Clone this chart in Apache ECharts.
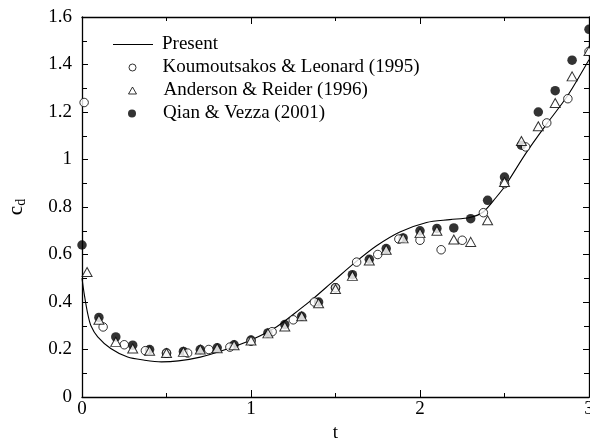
<!DOCTYPE html>
<html>
<head>
<meta charset="utf-8">
<script src="https://cdn.jsdelivr.net/npm/echarts@6/dist/echarts.min.js"></script>
<style>
  html, body { margin: 0; padding: 0; background: #fff; overflow: hidden; }
  #chart { width: 590px; height: 443px; }
</style>
</head>
<body>
<div id="chart"></div>
<script>
// Drag coefficient history c_d(t)
const presentT  = [0, 0.014, 0.034, 0.053, 0.093, 0.17, 0.27, 0.37, 0.47, 0.57, 0.7, 0.85, 1.0, 1.15, 1.29, 1.368, 1.486, 1.625, 1.743, 1.881, 2.039, 2.177, 2.295, 2.374, 2.45, 2.5, 2.63, 2.75, 2.87, 3.0];
const presentCd = [0.50, 0.43, 0.35, 0.30, 0.253, 0.204, 0.168, 0.155, 0.148, 0.152, 0.168, 0.20, 0.24, 0.295, 0.37, 0.414, 0.487, 0.572, 0.637, 0.695, 0.735, 0.747, 0.756, 0.779, 0.84, 0.885, 1.03, 1.15, 1.265, 1.42];

const koumT  = [0.0125, 0.125, 0.25, 0.375, 0.5, 0.625, 0.75, 0.875, 1.0, 1.125, 1.25, 1.375, 1.5, 1.625, 1.75, 1.875, 2.0, 2.125, 2.25, 2.375, 2.5, 2.625, 2.75, 2.875, 3.0];
const koumCd = [1.24, 0.295, 0.22, 0.195, 0.185, 0.185, 0.20, 0.21, 0.235, 0.275, 0.325, 0.40, 0.46, 0.568, 0.60, 0.665, 0.66, 0.62, 0.66, 0.776, 0.898, 1.053, 1.154, 1.256, 1.455];

const andT  = [0.03, 0.1, 0.2, 0.3, 0.4, 0.5, 0.6, 0.7, 0.8, 0.9, 1.0, 1.1, 1.2, 1.3, 1.4, 1.5, 1.6, 1.7, 1.8, 1.9, 2.0, 2.1, 2.2, 2.3, 2.4, 2.5, 2.6, 2.7, 2.8, 2.9, 3.0];
const andCd = [0.526, 0.325, 0.232, 0.204, 0.195, 0.185, 0.19, 0.20, 0.205, 0.218, 0.238, 0.268, 0.297, 0.34, 0.395, 0.455, 0.51, 0.575, 0.62, 0.668, 0.69, 0.70, 0.663, 0.653, 0.744, 0.905, 1.078, 1.14, 1.238, 1.35, 1.457];

const qianT  = [0, 0.1, 0.2, 0.3, 0.4, 0.5, 0.6, 0.7, 0.8, 0.9, 1.0, 1.1, 1.2, 1.3, 1.4, 1.5, 1.6, 1.7, 1.8, 1.9, 2.0, 2.1, 2.2, 2.3, 2.4, 2.5, 2.6, 2.7, 2.8, 2.9, 3.0];
const qianCd = [0.64, 0.335, 0.253, 0.218, 0.20, 0.185, 0.192, 0.20, 0.207, 0.22, 0.24, 0.27, 0.305, 0.34, 0.40, 0.46, 0.515, 0.58, 0.625, 0.67, 0.70, 0.71, 0.712, 0.751, 0.828, 0.926, 1.06, 1.20, 1.29, 1.418, 1.548];

const seriesNames = ['Present', 'Koumoutsakos & Leonard (1995)', 'Anderson & Reider (1996)', 'Qian & Vezza (2001)'];

const pairs = (xs, ys) => xs.map((x, i) => [x, ys[i]]);

const FONT = '"Liberation Serif", "DejaVu Serif", serif';
const INK = '#000';

const frameAxis = (extra) => Object.assign({
  type: 'value',
  axisLine: { show: true, onZero: false, lineStyle: { color: INK, width: 1.3 } },
  splitLine: { show: false },
  axisLabel: { show: false }
}, extra);

const xTicks = {
  axisTick: { show: true, inside: true, length: 7, lineStyle: { color: INK, width: 1 } },
  minorTick: { show: true, splitNumber: 2, length: 4, lineStyle: { color: INK, width: 1 } }
};
const yTicks = {
  axisTick: { show: true, inside: true, length: 6, lineStyle: { color: INK, width: 1 } },
  minorTick: { show: true, splitNumber: 2, length: 5, lineStyle: { color: INK, width: 1 } }
};

// One legend block per entry so each key keeps its own icon size
const legendText = { fontFamily: FONT, fontSize: 19, color: INK };
const legendRow = (name, top, icon, iconW, iconH, leftX, textPad, style) => ({
  orient: 'vertical',
  left: leftX, top: top,
  padding: 0,
  itemWidth: iconW, itemHeight: iconH,
  selectedMode: false,
  icon: icon,
  itemStyle: style,
  textStyle: Object.assign({ padding: [0, 0, 0, textPad] }, legendText),
  data: [{ name: name, icon: icon, itemStyle: style }]
});

const chart = echarts.init(document.getElementById('chart'), null, { renderer: 'canvas' });

chart.setOption({
  animation: false,
  backgroundColor: '#fff',
  textStyle: { fontFamily: FONT, color: INK },
  grid: { left: 82, right: 1, top: 17, bottom: 46, containLabel: false, outerBoundsMode: 'none' },
  legend: [
    legendRow(seriesNames[0], 35, 'rect', 40, 1.2, 113, 4, { color: INK, borderWidth: 0 }),
    legendRow(seriesNames[1], 58, 'circle', 7, 7, 128.5, 21.5, { color: '#fff', borderColor: INK, borderWidth: 1 }),
    legendRow(seriesNames[2], 81, 'triangle', 8, 7, 128, 22, { color: '#fff', borderColor: INK, borderWidth: 1 }),
    legendRow(seriesNames[3], 104, 'circle', 8, 8, 128, 22, { color: INK, borderWidth: 0 })
  ],
  xAxis: [
    frameAxis(Object.assign({
      min: 0, max: 3, interval: 1, position: 'bottom',
      axisLabel: { show: true, fontFamily: FONT, fontSize: 19, color: INK, margin: 3 },
      name: 't', nameLocation: 'middle', nameGap: 24,
      nameTextStyle: { fontFamily: FONT, fontSize: 19, color: INK }
    }, xTicks)),
    frameAxis(Object.assign({ min: 0, max: 3, interval: 1, position: 'top' }, xTicks))
  ],
  yAxis: [
    frameAxis(Object.assign({
      min: 0, max: 1.6, interval: 0.2, position: 'left',
      axisLabel: { show: true, fontFamily: FONT, fontSize: 19, color: INK, margin: 10 },
      name: '{c|c}{d|d}', nameLocation: 'middle', nameGap: 54,
      nameTextStyle: {
        rich: {
          c: { fontFamily: FONT, fontSize: 21, color: INK },
          d: { fontFamily: FONT, fontSize: 14, color: INK, padding: [10, 0, 0, 0] }
        }
      }
    }, yTicks)),
    frameAxis(Object.assign({ min: 0, max: 1.6, interval: 0.2, position: 'right' }, yTicks))
  ],
  series: [
    {
      name: seriesNames[0], type: 'line', xAxisIndex: 0, yAxisIndex: 0,
      data: pairs(presentT, presentCd),
      smooth: 0.3, showSymbol: false, symbol: 'none',
      lineStyle: { color: INK, width: 1.1 },
      itemStyle: { color: INK },
      z: 2
    },
    {
      name: seriesNames[3], type: 'scatter', xAxisIndex: 0, yAxisIndex: 0,
      data: pairs(qianT, qianCd),
      symbol: 'circle', symbolSize: 9.5,
      itemStyle: { color: INK, borderWidth: 0 },
      z: 3
    },
    {
      name: seriesNames[1], type: 'scatter', xAxisIndex: 0, yAxisIndex: 0,
      data: pairs(koumT, koumCd),
      symbol: 'circle', symbolSize: 8.5,
      itemStyle: { color: '#fff', borderColor: INK, borderWidth: 1 },
      z: 4
    },
    {
      name: seriesNames[2], type: 'scatter', xAxisIndex: 0, yAxisIndex: 0,
      data: pairs(andT, andCd),
      symbol: 'triangle', symbolSize: [10, 9],
      itemStyle: { color: '#fff', borderColor: INK, borderWidth: 1 },
      z: 5
    }
  ]
});
</script>
</body>
</html>
